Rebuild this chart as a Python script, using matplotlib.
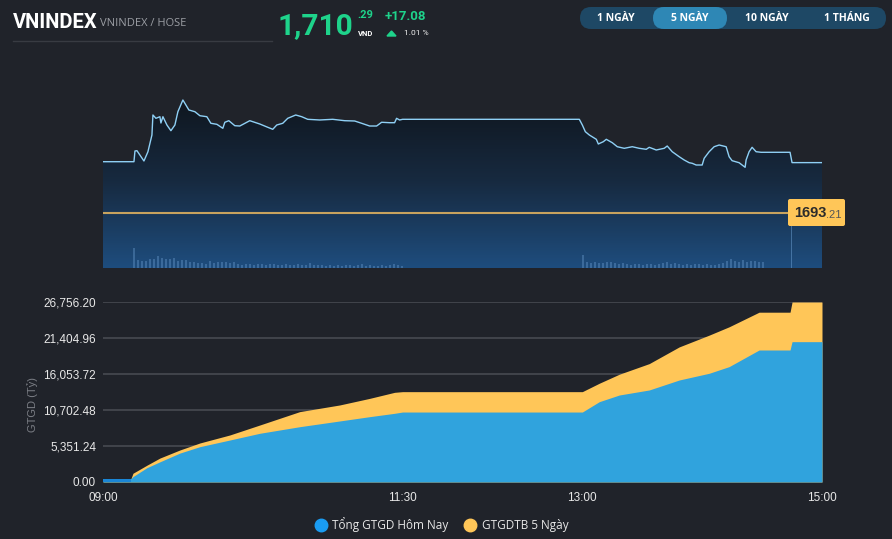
import numpy as np
import matplotlib
matplotlib.use('Agg')
import matplotlib.pyplot as plt
from matplotlib.patches import FancyBboxPatch, Polygon
from matplotlib.colors import LinearSegmentedColormap

W, H = 892, 539
BG = '#20232a'

# VNINDEX intraday line, minutes after 09:00
price_min = [0, 15.5, 16, 17, 20.5, 22.5, 24.5, 25, 26.5, 28.5, 29, 30, 32, 34, 36, 37.5,
             40, 43, 46, 48.5, 52, 54, 57, 60, 61, 63, 66, 68.5, 73.5, 78.5, 82.5, 85,
             87, 90, 92.5, 96.5, 99.5, 102.5, 108.5, 115, 121, 126, 129.5, 133.5, 137,
             139.5, 143.5, 146, 147, 148.5, 150, 238.5, 240, 241.5, 243.5, 247, 248,
             250.5, 252, 255, 257.5, 261, 265, 268.5, 272, 273.5, 277, 281, 282.5, 285,
             288.5, 291, 293.5, 295, 297, 300, 301, 303.5, 306, 308.5, 312, 313.5, 315,
             318.5, 321.5, 322, 323.5, 325, 327, 329.5, 344, 345, 360]
price_val = [1710.60, 1710.60, 1714.23, 1714.33, 1710.84, 1713.99, 1719.65, 1726.43,
             1725.31, 1725.85, 1723.72, 1725.85, 1723.04, 1721.11, 1723.04, 1727.55,
             1731.52, 1728.13, 1727.55, 1726.19, 1725.85, 1723.62, 1723.28, 1721.92,
             1723.96, 1724.50, 1722.80, 1722.70, 1724.50, 1723.38, 1722.26, 1721.58,
             1723.04, 1723.62, 1725.31, 1726.43, 1725.85, 1724.97, 1724.74, 1724.97,
             1724.50, 1724.40, 1723.62, 1722.70, 1722.70, 1723.96, 1723.82, 1723.82,
             1725.31, 1724.74, 1724.97, 1724.97, 1723.04, 1720.77, 1719.65, 1718.19,
             1716.60, 1717.38, 1718.19, 1717.04, 1715.68, 1715.14, 1715.68, 1715.14,
             1714.80, 1715.48, 1714.57, 1715.14, 1715.92, 1713.99, 1712.29, 1711.18,
             1710.26, 1710.06, 1709.48, 1709.48, 1711.75, 1713.99, 1715.68, 1716.26,
             1715.68, 1712.29, 1710.94, 1710.26, 1708.70, 1711.18, 1713.99, 1715.48,
             1713.99, 1713.79, 1713.79, 1710.29, 1710.29]
ref_price = 1693.21

# volume in 2-minute buckets (morning from 09:15, afternoon from 13:00), plus ATC
vol_am = [20, 8, 7, 7, 9, 9, 12, 10, 9, 9, 10, 7, 8, 8, 6, 6, 5, 5, 4, 7, 5, 6, 6, 6,
          5, 6, 4, 3, 4, 4, 3, 4, 4, 3, 4, 4, 3, 3, 4, 3, 3, 4, 3, 3, 5, 3, 3, 3, 2, 3,
          2, 3, 2, 3, 3, 2, 3, 4, 2, 3, 2, 2, 3, 2, 3, 4, 3, 2]
vol_pm = [13, 6, 5, 6, 5, 5, 6, 6, 5, 4, 5, 4, 3, 4, 4, 3, 4, 4, 3, 4, 5, 6, 4, 5, 4,
          3, 4, 3, 4, 4, 3, 4, 3, 3, 4, 5, 7, 9, 7, 6, 8, 6, 7, 7, 6, 6]
vol_atc = 55

# cumulative traded value (ty dong)
val_min = [0, 14, 15, 22, 28.5, 38.5, 48.5, 63.5, 78.5, 98.5, 118.5, 133.5, 146, 150,
           240, 248.5, 258.5, 273.5, 288.5, 303.5, 313.5, 328.5, 330, 344, 345, 360]
val_today = [500, 500, 800, 2130, 3000, 4300, 5250, 6240, 7240, 8220, 9070, 9710, 10210,
             10400, 10400, 11940, 12930, 13680, 15160, 16160, 17150, 19620, 19620, 19620,
             20860, 20860]
val_avg5 = [500, 500, 1300, 2500, 3560, 4760, 5800, 6990, 8470, 10460, 11450, 12430,
            13330, 13430, 13430, 14680, 16020, 17600, 20080, 21830, 23070, 25240, 25240,
            25240, 26756.2, 26756.2]

y_ticks = [0, 5351.24, 10702.48, 16053.72, 21404.96, 26756.20]
x_ticks = [0, 150, 240, 360]
x_labels = ['09:00', '11:30', '13:00', '15:00']
ranges = ['1 NGÀY', '5 NGÀY', '10 NGÀY', '1 THÁNG']
legend_labels = ['Tổng GTGD Hôm Nay', 'GTGDTB 5 Ngày']


def fx(px):
    return px / W


def fy(py):
    return 1 - py / H


fig = plt.figure(figsize=(W / 100, H / 100), dpi=100, facecolor=BG)

# ---- top chart: index line with gradient fill ----
ax1 = fig.add_axes([fx(103), fy(268), (822 - 103) / W, (268 - 95) / H])
ax1.set_facecolor('none')
p_lo, p_hi = 1674.57, 1733.21
ax1.set_xlim(0, 360)
ax1.set_ylim(p_lo, p_hi)
ax1.axis('off')

cmap = LinearSegmentedColormap.from_list('grad', ['#0f151d', '#172a40', '#1e4d7e'])
grad = np.linspace(0, 1, 256).reshape(-1, 1)
im = ax1.imshow(grad, extent=[0, 360, p_lo, p_hi], aspect='auto', cmap=cmap,
                origin='upper', zorder=1)
verts = [(0, p_lo)] + list(zip(price_min, price_val)) + [(360, p_lo)]
clip = Polygon(verts, closed=True, facecolor='none', edgecolor='none')
ax1.add_patch(clip)
im.set_clip_path(clip)

ax1v = ax1.twinx()
ax1v.set_ylim(0, 173)
ax1v.axis('off')
am_t = 15 + 2 * np.arange(len(vol_am))
pm_t = 240 + 2 * np.arange(len(vol_pm))
ax1v.bar(am_t, vol_am, width=1.0, align='edge', color='#6c9fd2', alpha=0.38, lw=0)
ax1v.bar(pm_t, vol_pm, width=1.0, align='edge', color='#6c9fd2', alpha=0.38, lw=0)
ax1v.bar([344.5], [vol_atc], width=0.6, align='edge', color='#6c9fd2', alpha=0.5, lw=0)

ax1.axhline(ref_price, color='#c8a35e', lw=1.5, zorder=3)
ax1.plot(price_min, price_val, color='#8fd0f5', lw=1.0, zorder=4)

# ---- bottom chart: cumulative traded value ----
ax2 = fig.add_axes([fx(103), fy(482), (822 - 103) / W, (482 - 302) / H])
ax2.set_facecolor('none')
ax2.set_xlim(0, 360)
ax2.set_ylim(0, 26756.2)
ax2.fill_between(val_min, val_avg5, color='#ffc658', lw=0, zorder=2)
ax2.fill_between(val_min, val_today, color='#30a3dd', lw=0, zorder=3)
ax2.fill_between(val_min[:2], val_today[:2], color='#1a86d6', lw=0, zorder=3)
ax2.set_yticks(y_ticks)
ax2.set_yticklabels([f'{v:,.2f}' for v in y_ticks])
ax2.set_xticks(x_ticks)
ax2.set_xticklabels(x_labels)
ax2.grid(axis='y', color='#474a51', lw=1.2, zorder=1)
ax2.set_axisbelow(True)
for s in ax2.spines.values():
    s.set_visible(False)
ax2.tick_params(axis='both', length=0, colors='#e8e8e8', labelsize=8.5)
ax2.tick_params(axis='y', pad=5)
ax2.tick_params(axis='x', pad=7)
for lab in ax2.get_xticklabels() + ax2.get_yticklabels():
    lab.set_family('Liberation Sans')
fig.text(fx(33), fy(405), 'GTGD (Tỷ)', rotation=90, ha='center', va='center',
         color='#7b7e85', fontsize=8, family='Liberation Sans')

# ---- overlay in pixel coords ----
ax0 = fig.add_axes([0, 0, 1, 1])
ax0.set_xlim(0, W)
ax0.set_ylim(H, 0)
ax0.axis('off')
ax0.set_zorder(10)
ax0.patch.set_alpha(0)

ax0.text(13, 22, 'VNINDEX', family='Roboto', weight='bold', fontsize=14.5,
         color='white', va='center', ha='left')
ax0.text(100, 23, 'VNINDEX / HOSE', family='Open Sans', fontsize=8, color='#9b9ea4',
         va='center', ha='left')
ax0.plot([13, 272], [41, 41], color='#383b42', lw=1)

green = '#1ed38b'
ax0.text(277, 26, '1,710', family='Roboto', weight='bold', fontsize=21.5, color=green,
         va='center', ha='left')
ax0.text(357, 15, '.29', family='Roboto', weight='bold', fontsize=8, color=green,
         va='center', ha='left')
ax0.text(358, 33, 'VND', family='Roboto', weight='bold', fontsize=5.5, color='white',
         va='center', ha='left')
ax0.text(385, 17, '+17.08', family='Roboto', weight='bold', fontsize=9.5, color=green,
         va='center', ha='left')
ax0.add_patch(Polygon([(387, 36), (396, 36), (391.5, 31)], closed=True, color=green))
ax0.text(404, 33, '1.01 %', family='Roboto', fontsize=6, color='#eeeeee',
         va='center', ha='left')

# range buttons
ax0.add_patch(FancyBboxPatch((580, 7), 306, 22, boxstyle='round,pad=0,rounding_size=11',
                             facecolor='#1e4865', edgecolor='none'))
ax0.add_patch(FancyBboxPatch((653, 7), 74, 22, boxstyle='round,pad=0,rounding_size=11',
                             facecolor='#2e87b5', edgecolor='none'))
for cx, lab in zip([616, 690, 767, 847], ranges):
    ax0.text(cx, 18.5, lab, family='Open Sans', weight='bold', fontsize=7.5,
             color='white', ha='center', va='center')

# reference price label
ax0.add_patch(FancyBboxPatch((788, 199), 57, 27, boxstyle='round,pad=0,rounding_size=2',
                             facecolor='#ffc658', edgecolor='none'))
ax0.text(794, 213, '1693', family='Liberation Sans', weight='bold', fontsize=10.5,
         color='#2b2b2b', ha='left', va='center')
ax0.text(826, 214.5, '.21', family='Liberation Sans', fontsize=8, color='#555555',
         ha='left', va='center')

# legend
for (mx, tx), lab, col in zip([(321, 332), (470, 482)], legend_labels,
                              ['#1a9cf2', '#ffc658']):
    ax0.plot([mx], [525], marker='o', markersize=9, color=col, lw=0)
    ax0.text(tx, 525, lab, family='Open Sans', fontsize=8.5, color='#e8e8e8',
             ha='left', va='center')

fig.savefig('out.png', dpi=100, facecolor=BG)
